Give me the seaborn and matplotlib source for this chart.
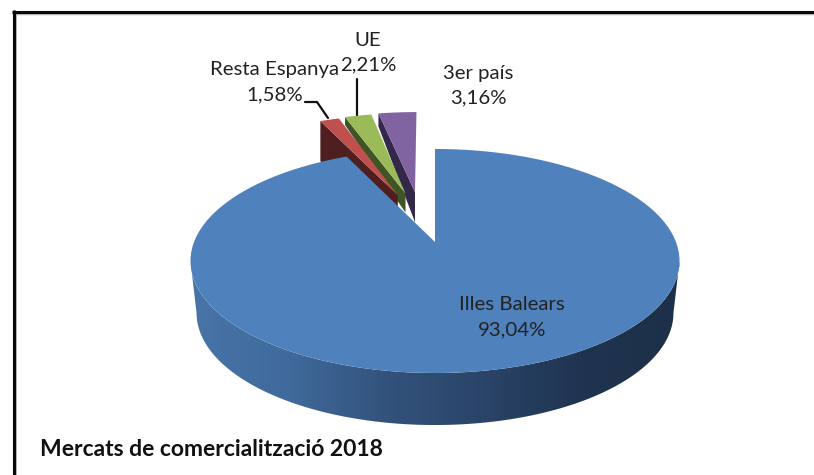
import numpy as np
import matplotlib
matplotlib.use("Agg")
import matplotlib.pyplot as plt
from matplotlib.path import Path
from matplotlib.patches import Polygon
from matplotlib.colors import LinearSegmentedColormap
import seaborn as sns

categories = ["Illes Balears", "Resta Espanya", "UE", "3er país"]
shares = [93.04, 1.58, 2.21, 3.16]
share_labels = ["93,04%", "1,58%", "2,21%", "3,16%"]
title_text = "Mercats de comercialització 2018"

face_colors = ["#4f81bd", "#c0504d", "#9bbb59", "#8064a2"]
wall_colors = ["#2c4a70", "#4f1f1f", "#3f5526", "#33284a"]
explode = [0, 0.5, 0.5, 0.5]
lateral_shift = [0, 5, 0, -9]
wall_depth = [(0, 0), (40, 40), (8, 19), (13, 30)]

sns.set_theme(style="white")
plt.rcParams["font.family"] = ["Lato", "DejaVu Sans"]

W, H = 814, 475
fig = plt.figure(figsize=(W / 100, H / 100), dpi=100)
ax = fig.add_axes([0, 0, 1, 1])

wedges, _ = ax.pie(shares, colors=face_colors, startangle=90, counterclock=False,
                   explode=explode, radius=1, wedgeprops=dict(linewidth=0))
ax.set_aspect("auto")
ax.set_xlim(0, W)
ax.set_ylim(H, 0)
ax.set_axis_off()

CX, CY, A, B, K = 435.0, 242.0, 241.0, 108.8, 0.1696


def project(u, v, sx=1.0, dy=0.0):
    w = 1 + K * v
    return CX + sx * A * u / w, CY + dy - B * v / w


def wedge_xy(wedge, n=120):
    t = np.radians(np.linspace(wedge.theta1, wedge.theta2, n))
    cx, cy = wedge.center
    u = np.r_[cx, cx + wedge.r * np.cos(t)]
    v = np.r_[cy, cy + wedge.r * np.sin(t)]
    return u, v


# blue rim with a horizontal gradient, between the widest points of the disc
tt = np.radians(np.linspace(-170.2, -9.8, 400))
x1, y1 = project(np.cos(tt), np.sin(tt))
x2, y2 = project(np.cos(tt), np.sin(tt), sx=0.975, dy=52)
rim_xy = np.c_[np.r_[x1, x2[::-1]], np.r_[y1, y2[::-1]]]
rim_cmap = LinearSegmentedColormap.from_list(
    "rim", ["#4874a8", "#3f6a9b", "#33527c", "#2a4468", "#1f3450", "#1d3049"])
grad = np.linspace(0, 1, 256)[None, :]
img = ax.imshow(grad, cmap=rim_cmap, extent=[191, 680, 430, 250], aspect="auto", zorder=1)
clip = Polygon(rim_xy, closed=True, transform=ax.transData, facecolor="none", edgecolor="none")
ax.add_patch(clip)
img.set_clip_path(clip)
ax.set_xlim(0, W)
ax.set_ylim(H, 0)

# slices: cut walls and top faces, through the pie's own wedges
order = [3, 2, 1, 0]
for rank, i in enumerate(order):
    wedge = wedges[i]
    u, v = wedge_xy(wedge)
    px, py = project(u, v)
    px = px + lateral_shift[i]
    z = 2 + rank * 2
    if i != 0:
        d_out, d_apex = wall_depth[i]
        tip = (px[-1], py[-1])
        apex = (px[0], py[0])
        wall = np.array([tip, apex, (apex[0], apex[1] + d_apex), (tip[0], tip[1] + d_out)])
        ax.add_patch(Polygon(wall, closed=True, facecolor=wall_colors[i], edgecolor="none", zorder=z))
    wedge._path = Path(np.c_[px, py][np.r_[0:len(px), 0]], closed=True)
    wedge.set_transform(ax.transData)
    wedge.set_zorder(z + 1)

# frame with its grey inner shadow
ax.plot([16, 16], [475, 13], color="#b5b5b5", lw=1.4, solid_capstyle="butt", zorder=19)
ax.plot([15, 814], [13.7, 13.7], color="#b5b5b5", lw=1.0, solid_capstyle="butt", zorder=19)
ax.plot([13.7, 13.7], [475, 10], color="#0a0a0a", lw=2.2, solid_capstyle="butt", zorder=20)
ax.plot([12.2, 814], [11.5, 11.5], color="#0a0a0a", lw=2.2, solid_capstyle="butt", zorder=20)

# labels
fs = 14.7
ls = 1.56
txt = "#222222"
for (x, y), name, pct in [((512, 317), categories[0], share_labels[0]),
                          ((275, 82), categories[1], share_labels[1]),
                          ((368, 52.5), categories[2], share_labels[2]),
                          ((478, 85.5), categories[3], share_labels[3])]:
    ax.text(x, y, f"{name}\n{pct}", ha="center", va="center", fontsize=fs, color=txt,
            linespacing=ls, zorder=21)
ax.plot([305, 317, 328], [102, 102, 118], color="#111111", lw=1.6, zorder=21)
ax.plot([357, 357], [79, 115], color="#111111", lw=1.6, zorder=21)

ax.text(40, 449, title_text, ha="left", va="center", fontsize=16.5, fontweight="bold",
        color="#111111", zorder=21)

fig.savefig("out.png", dpi=100, facecolor="white")
